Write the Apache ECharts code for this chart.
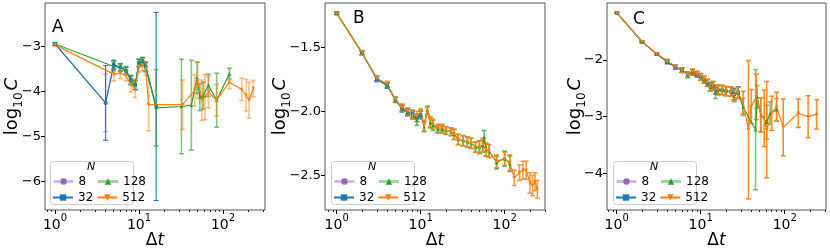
<!DOCTYPE html>
<html><head><meta charset="utf-8">
<script src="https://cdn.jsdelivr.net/npm/echarts@6/dist/echarts.min.js"></script>
<style>html,body{margin:0;padding:0;background:#fff}#c{width:830px;height:248px}</style>
</head><body><div id="c"></div>
<script>
// ---------- Panel A ----------
const A_dt_8 = [1, 4, 5, 6, 7, 8, 9, 10, 11, 12];
const A_y_8 = [-2.95, -4.26, -3.42, -3.47, -3.55, -3.75, -3.86, -3.38, -3.34, -3.46];
const A_err_8 = [0.03, 0.64, 0.1, 0.08, 0.08, 0.1, 0.1, 0.08, 0.08, 0.1];
const A_dt_32 = [1, 4, 5, 6, 7, 8, 9, 10, 11, 12, 16];
const A_y_32 = [-2.95, -4.26, -3.41, -3.47, -3.55, -3.75, -3.86, -3.37, -3.33, -3.45, -4.34];
const A_err_32 = [0.03, 0.83, 0.1, 0.08, 0.08, 0.1, 0.1, 0.08, 0.08, 0.1, 2.09];
const A_dt_128 = [1, 5, 6, 7, 8, 9, 10, 11, 12, 16, 32, 42, 49, 53, 58, 67, 84, 119];
const A_y_128 = [-2.95, -3.45, -3.47, -3.53, -3.76, -3.87, -3.37, -3.33, -3.47, -4.37, -4.34, -4.31, -3.70, -4.13, -4.10, -3.87, -4.20, -3.61];
const A_err_128 = [0.03, 0.1, 0.08, 0.08, 0.1, 0.1, 0.08, 0.08, 0.1, 0.85, 1.05, 1.0, 0.35, 0.3, 0.3, 0.25, 0.6, 0.12];
const A_dt_512 = [1, 5, 6, 7, 8, 9, 10, 11, 12, 13, 33, 46, 50, 56, 61, 67, 84, 119, 167, 188, 204, 229];
const A_y_512 = [-2.97, -3.62, -3.60, -3.65, -3.87, -3.94, -3.46, -3.43, -3.50, -4.30, -4.30, -3.98, -3.76, -4.20, -4.13, -4.02, -4.20, -3.80, -3.96, -4.09, -4.20, -3.94];
const A_err_512 = [0.03, 0.15, 0.12, 0.12, 0.15, 0.2, 0.12, 0.12, 0.15, 0.58, 0.55, 0.35, 0.4, 0.45, 0.5, 0.35, 0.35, 0.15, 0.25, 0.35, 0.4, 0.18];
// ---------- Panel B ----------
const B_dt_8 = [1, 2, 3, 4, 5, 6, 7, 8];
const B_y_8 = [-1.234, -1.542, -1.745, -1.80, -1.91, -1.98, -2.01, -2.03];
const B_err_8 = [0.01, 0.015, 0.02, 0.02, 0.02, 0.025, 0.025, 0.03];
const B_dt_32 = [1, 2, 3, 4, 5, 6, 7, 8, 9, 10];
const B_y_32 = [-1.234, -1.542, -1.75, -1.80, -1.91, -1.98, -2.01, -2.02, -2.05, -2.03];
const B_err_32 = [0.01, 0.015, 0.02, 0.02, 0.02, 0.025, 0.025, 0.03, 0.03, 0.03];
const B_dt_128 = [1, 2, 3, 4, 5, 6, 7, 8, 9, 10, 11, 12, 13, 14, 16, 18, 20, 23, 25, 28, 32, 36, 40, 45, 50, 55, 57, 60, 65, 80, 100, 115];
const B_y_128 = [-1.234, -1.542, -1.742, -1.795, -1.91, -1.97, -2.0, -2.03, -2.07, -2.02, -2.12, -1.99, -2.09, -2.11, -2.14, -2.14, -2.15, -2.16, -2.18, -2.22, -2.23, -2.24, -2.25, -2.28, -2.28, -2.27, -2.20, -2.30, -2.31, -2.40, -2.37, -2.41];
const B_err_128 = [0.01, 0.015, 0.02, 0.02, 0.02, 0.025, 0.025, 0.03, 0.04, 0.03, 0.04, 0.03, 0.04, 0.04, 0.03, 0.03, 0.03, 0.03, 0.04, 0.04, 0.04, 0.04, 0.04, 0.04, 0.05, 0.05, 0.05, 0.05, 0.05, 0.05, 0.06, 0.06];
const B_dt_512 = [1, 2, 3, 4, 5, 6, 7, 8, 9, 10, 11, 12, 13, 14, 16, 18, 20, 23, 25, 28, 32, 36, 40, 45, 50, 55, 60, 65, 80, 100, 115, 130, 150, 165, 180, 200, 215, 230, 245];
const B_y_512 = [-1.234, -1.542, -1.742, -1.785, -1.91, -1.97, -2.0, -2.03, -2.04, -2.01, -2.11, -2.0, -2.08, -2.10, -2.13, -2.13, -2.15, -2.16, -2.18, -2.22, -2.23, -2.24, -2.25, -2.28, -2.28, -2.26, -2.30, -2.31, -2.39, -2.37, -2.40, -2.52, -2.48, -2.46, -2.46, -2.56, -2.58, -2.55, -2.61];
const B_err_512 = [0.01, 0.015, 0.02, 0.02, 0.02, 0.025, 0.025, 0.03, 0.04, 0.03, 0.04, 0.03, 0.04, 0.04, 0.03, 0.03, 0.03, 0.03, 0.04, 0.04, 0.04, 0.04, 0.04, 0.04, 0.05, 0.05, 0.05, 0.05, 0.05, 0.05, 0.06, 0.06, 0.06, 0.07, 0.07, 0.08, 0.08, 0.07, 0.07];
// ---------- Panel C ----------
const C_dt_8 = [1, 2, 3, 4, 5, 6];
const C_y_8 = [-1.166, -1.677, -1.894, -2.03, -2.12, -2.18];
const C_err_8 = [0.01, 0.015, 0.02, 0.03, 0.03, 0.04];
const C_dt_32 = [1, 2, 3, 4, 5, 6, 7, 8, 9, 10, 11, 12, 13, 14, 15, 16, 18, 20, 23, 25, 28];
const C_y_32 = [-1.166, -1.677, -1.894, -2.04, -2.13, -2.18, -2.26, -2.22, -2.26, -2.30, -2.35, -2.41, -2.47, -2.45, -2.52, -2.52, -2.53, -2.55, -2.56, -2.60, -2.57];
const C_err_32 = [0.01, 0.015, 0.02, 0.03, 0.03, 0.04, 0.05, 0.05, 0.05, 0.06, 0.06, 0.06, 0.07, 0.07, 0.07, 0.08, 0.08, 0.08, 0.08, 0.1, 0.1];
const C_dt_128 = [1, 2, 3, 4, 5, 6, 7, 8, 9, 10, 11, 12, 13, 14, 15, 16, 18, 20, 23, 25, 28, 32, 45, 47, 52, 61, 67, 80];
const C_y_128 = [-1.166, -1.677, -1.894, -2.02, -2.12, -2.18, -2.26, -2.21, -2.25, -2.30, -2.35, -2.40, -2.48, -2.45, -2.58, -2.54, -2.53, -2.55, -2.56, -2.64, -2.58, -2.83, -3.23, -2.65, -2.97, -3.10, -2.94, -2.88];
const C_err_128 = [0.01, 0.015, 0.02, 0.03, 0.03, 0.04, 0.05, 0.05, 0.05, 0.06, 0.06, 0.06, 0.07, 0.07, 0.1, 0.08, 0.08, 0.08, 0.08, 0.1, 0.1, 0.15, 1.06, 0.2, 0.3, 0.3, 0.2, 0.2];
const C_dt_512 = [1, 2, 3, 4, 5, 6, 7, 8, 9, 10, 11, 12, 13, 14, 15, 16, 18, 20, 23, 25, 28, 32, 37, 40, 46, 52, 57, 61, 70, 80, 96, 145, 190, 240];
const C_y_512 = [-1.166, -1.677, -1.894, -2.02, -2.12, -2.18, -2.26, -2.21, -2.25, -2.30, -2.35, -2.40, -2.48, -2.45, -2.53, -2.52, -2.53, -2.55, -2.56, -2.62, -2.58, -2.75, -3.23, -2.82, -2.65, -2.97, -3.03, -3.23, -2.94, -2.82, -3.19, -2.94, -3.0, -2.96];
const C_err_512 = [0.01, 0.015, 0.02, 0.03, 0.03, 0.04, 0.05, 0.05, 0.05, 0.06, 0.06, 0.06, 0.07, 0.07, 0.07, 0.08, 0.08, 0.08, 0.08, 0.1, 0.1, 0.2, 1.22, 0.3, 0.4, 0.3, 0.5, 0.85, 0.3, 0.25, 0.5, 0.25, 0.37, 0.26];

// ---------- Axis ticks ----------
const X_MAJOR = [1, 10, 100];
const X_MINOR = [0.8, 0.9, 2, 3, 4, 5, 6, 7, 8, 9, 20, 30, 40, 50, 60, 70, 80, 90, 200, 300];
const A_YTICKS = [-6, -5, -4, -3];
const B_YTICKS = [-2.5, -2.0, -1.5];
const C_YTICKS = [-4, -3, -2];
const PANEL_LABELS = ['A', 'B', 'C'];
const N_NAMES = ['8', '32', '128', '512'];
const LEGEND_ROW1 = ['8', '128'];
const LEGEND_ROW2 = ['32', '512'];

const FONT = 'DejaVu Sans';
const COLORS = {'8': '#9467bd', '32': '#1f77b4', '128': '#2ca02c', '512': '#ff7f0e'};
const SYMBOLS = {'8': 'circle', '32': 'rect', '128': 'triangle', '512': 'triangle'};
const ROT = {'8': 0, '32': 0, '128': 0, '512': 180};
const LIGHT = {'8': true, '32': false, '128': true, '512': false};

const panels = [
  {grid: {left: 45, top: 3, width: 220, height: 207}, xr: [0.76, 316], yr: [-6.64, -2.04], yt: A_YTICKS, dec: 0,
   d: {'8': [A_dt_8, A_y_8, A_err_8], '32': [A_dt_32, A_y_32, A_err_32], '128': [A_dt_128, A_y_128, A_err_128], '512': [A_dt_512, A_y_512, A_err_512]},
   eo: {'8': 0.45, '32': 1, '128': 0.6, '512': 0.5}, label: {left: 52, top: 19}, leg: 52, yGap: 20},
  {grid: {left: 325, top: 3, width: 220, height: 207}, xr: [0.726, 302], yr: [-2.771, -1.154], yt: B_YTICKS, dec: 1,
   d: {'8': [B_dt_8, B_y_8, B_err_8], '32': [B_dt_32, B_y_32, B_err_32], '128': [B_dt_128, B_y_128, B_err_128], '512': [B_dt_512, B_y_512, B_err_512]},
   eo: {'8': 0.45, '32': 1, '128': 0.7, '512': 0.75}, label: {left: 353, top: 10}, leg: 333, yGap: 32},
  {grid: {left: 607, top: 3, width: 219, height: 207}, xr: [0.767, 310], yr: [-4.647, -0.995], yt: C_YTICKS, dec: 0,
   d: {'8': [C_dt_8, C_y_8, C_err_8], '32': [C_dt_32, C_y_32, C_err_32], '128': [C_dt_128, C_y_128, C_err_128], '512': [C_dt_512, C_y_512, C_err_512]},
   eo: {'8': 0.45, '32': 1, '128': 0.6, '512': 0.9}, label: {left: 633, top: 11}, leg: 615, yGap: 19}
];

function fmtY(dec) {
  return v => (v < 0 ? '\u2212' : '') + Math.abs(v).toFixed(dec);
}

function errRenderer(color, opacity, width) {
  return function (params, api) {
    const x = api.value(0), y = api.value(1), e = api.value(2);
    const t = api.coord([x, y + e]);
    const b = api.coord([x, y - e]);
    const cw = 2.5;
    const st = {stroke: color, lineWidth: width, opacity: opacity};
    return {type: 'group', children: [
      {type: 'line', shape: {x1: t[0], y1: t[1], x2: b[0], y2: b[1]}, style: st},
      {type: 'line', shape: {x1: t[0] - cw, y1: t[1], x2: t[0] + cw, y2: t[1]}, style: st},
      {type: 'line', shape: {x1: b[0] - cw, y1: b[1], x2: b[0] + cw, y2: b[1]}, style: st}
    ]};
  };
}

const option = {
  animation: false,
  backgroundColor: '#fff',
  textStyle: {fontFamily: FONT},
  grid: [], xAxis: [], yAxis: [], series: [], title: [], legend: [], graphic: []
};

function legendItems(names) {
  return names.map(n => LIGHT[n] ? {name: n, lineStyle: {width: 3, opacity: 0.45}} : {name: n});
}

panels.forEach((p, i) => {
  option.grid.push(Object.assign({show: true, borderColor: '#555', borderWidth: 1, backgroundColor: 'transparent',
    containLabel: false, outerBoundsMode: 'none'}, p.grid));
  option.xAxis.push({
    type: 'log', logBase: 10, gridIndex: i, min: p.xr[0], max: p.xr[1],
    axisLine: {show: false}, splitLine: {show: false}, minorTick: {show: false},
    axisTick: {show: true, length: 4, customValues: X_MAJOR, lineStyle: {color: '#000', width: 1}},
    axisLabel: {customValues: X_MAJOR, margin: 3, color: '#000',
      formatter: v => '{b|10}{s|' + Math.round(Math.log10(v)) + '}',
      rich: {b: {fontSize: 14, fontFamily: FONT, color: '#000', verticalAlign: 'bottom', lineHeight: 19},
             s: {fontSize: 10, fontFamily: FONT, color: '#000', verticalAlign: 'top', lineHeight: 19}}},
    name: '{d|\u0394}{t|t}', nameLocation: 'middle', nameGap: 22, nameMoveOverlap: false,
    nameTextStyle: {verticalAlign: 'top', rich: {d: {fontSize: 17, fontFamily: FONT, color: '#000'}, t: {fontSize: 17, fontFamily: FONT, fontStyle: 'italic', color: '#000'}}}
  });
  option.xAxis.push({
    type: 'log', logBase: 10, gridIndex: i, min: p.xr[0], max: p.xr[1], position: 'bottom',
    axisLine: {show: false}, splitLine: {show: false}, axisLabel: {show: false},
    axisTick: {show: true, length: 2, customValues: X_MINOR, lineStyle: {color: '#000', width: 0.8}}
  });
  option.yAxis.push({
    type: 'value', gridIndex: i, min: p.yr[0], max: p.yr[1],
    axisLine: {show: false}, splitLine: {show: false},
    axisTick: {show: true, length: 4, customValues: p.yt, lineStyle: {color: '#000'}},
    axisLabel: {customValues: p.yt, formatter: fmtY(p.dec), fontSize: 13, color: '#000', margin: 4, fontFamily: FONT},
    name: '{l|log}{s|10}{c|C}', nameLocation: 'middle', nameRotate: 90, nameGap: p.yGap, nameMoveOverlap: false,
    nameTextStyle: {rich: {l: {fontSize: 18, fontFamily: FONT, color: '#000', verticalAlign: 'top', lineHeight: 22},
                           s: {fontSize: 12, fontFamily: FONT, color: '#000', verticalAlign: 'bottom', lineHeight: 22},
                           c: {fontSize: 18, fontFamily: FONT, fontStyle: 'italic', color: '#000', verticalAlign: 'top', lineHeight: 22, padding: [0, 0, 0, 2]}}}
  });
  N_NAMES.forEach(n => {
    const [dt, y, err] = p.d[n];
    const col = COLORS[n];
    option.series.push({
      name: n + ' err', type: 'custom', xAxisIndex: 2 * i, yAxisIndex: i, clip: true,
      renderItem: errRenderer(col, p.eo[n], p.eo[n] < 1 ? 1.6 : 1.1),
      data: dt.map((d, k) => [d, y[k], err[k]]), z: 2
    });
    option.series.push({
      name: n, type: 'line', xAxisIndex: 2 * i, yAxisIndex: i,
      data: dt.map((d, k) => [d, y[k]]),
      symbol: SYMBOLS[n], symbolRotate: ROT[n], symbolSize: 3.5,
      lineStyle: {color: col, width: 1.2, opacity: n === '8' ? 0.6 : 1},
      itemStyle: {color: col}, z: 3
    });
  });
  option.title.push({text: PANEL_LABELS[i], left: p.label.left, top: p.label.top, padding: 0,
    textStyle: {fontSize: 17, fontWeight: 'normal', color: '#000', fontFamily: FONT}});
  option.title.push({text: 'N', left: p.leg + 35, top: 162, padding: 0, z: 10,
    textStyle: {fontSize: 11, fontWeight: 'normal', fontStyle: 'italic', color: '#000', fontFamily: FONT}});
  option.graphic.push({type: 'rect', left: p.leg - 2, top: 161, z: 5,
    shape: {width: 83, height: 43, r: 3},
    style: {fill: 'rgba(255,255,255,0.85)', stroke: '#ccc', lineWidth: 1}});
  [LEGEND_ROW1, LEGEND_ROW2].forEach((row, r) => {
    option.legend.push({
      left: p.leg, top: 174 + 16 * r, orient: 'horizontal', padding: 0, z: 8,
      itemGap: 3, itemWidth: 20, itemHeight: 8,
      textStyle: {fontSize: 12, fontFamily: FONT, color: '#000', width: 15, lineHeight: 15},
      data: legendItems(row)
    });
  });
});

const chart = echarts.init(document.getElementById('c'), null, {renderer: 'canvas'});
chart.setOption(option);
</script></body></html>
